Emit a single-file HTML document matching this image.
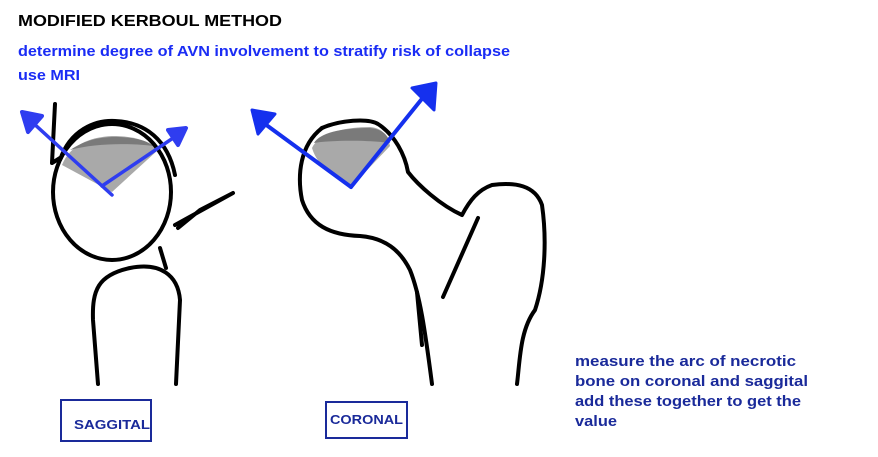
<!DOCTYPE html>
<html><head><style>html,body{margin:0;padding:0;background:#fff}svg{display:block}</style></head>
<body>
<svg width="878" height="457" viewBox="0 0 878 457" xmlns="http://www.w3.org/2000/svg" font-family="Liberation Sans, Arial, sans-serif" font-weight="bold">
<text x="18" y="26" font-size="16" fill="#000" textLength="264" lengthAdjust="spacingAndGlyphs">MODIFIED KERBOUL METHOD</text>
<text x="18" y="56" font-size="15" fill="#1a2cf5" textLength="492" lengthAdjust="spacingAndGlyphs">determine degree of AVN involvement to stratify risk of collapse</text>
<text x="18" y="80" font-size="15" fill="#1a2cf5" textLength="62" lengthAdjust="spacingAndGlyphs">use MRI</text>

<!-- gray caps -->
<path d="M62,165 C70,145 90,137 112,136 C135,136 150,141 158,150 L112,192 Z" fill="#a9a9a9"/>
<path d="M70,150 C85,140 100,137 115,137 C135,137 148,141 153,146 C130,143 95,143 70,150Z" fill="#7a7a7a"/>
<path d="M312,148 C318,135 340,127 370,127 C382,128 388,135 390,146 L351,187 C335,175 318,168 312,148Z" fill="#a9a9a9"/>
<path d="M314,143 C320,133 340,128 370,128 C382,129 388,135 390,143 C370,140 330,140 314,143Z" fill="#7a7a7a"/>

<g fill="none" stroke="#000" stroke-width="4" stroke-linecap="round" stroke-linejoin="round">
<path d="M55,104 L52,163 L60,158"/>
<path d="M60,160 C70,130 95,120 115,121 C145,122 168,140 175,175"/>
<ellipse cx="112" cy="192" rx="59" ry="68"/>
<path d="M175,225 L233,193 L200,210 L178,228"/>
<path d="M160,248 L166,268"/>
<path d="M98,384 L93,320 C92,290 98,275 130,268 C160,262 178,275 180,300 L176,384"/>
<path d="M322,128 C340,120 368,118 378,124 C395,135 405,155 408,172 C418,185 440,205 462,215 C470,200 478,190 492,185 C515,182 535,185 542,205 C547,240 545,280 535,310 C520,330 520,360 517,384"/>
<path d="M322,128 C300,145 297,175 302,200 C310,225 330,235 360,236 C385,238 400,250 410,270 C420,295 425,330 432,384"/>
<path d="M417,292 L422,345"/>
<path d="M478,218 L443,297"/>
</g>
<!-- arrows -->
<g stroke="#2f3df0" stroke-width="3.5" fill="#2f3df0" stroke-linecap="round">
<path d="M112,195 L32,122" fill="none"/>
<path d="M102,186 L182,132" fill="none"/>
<polygon points="22,112 42,116 28,132" stroke-width="4" stroke-linejoin="round"/>
<polygon points="186,128 168,130 178,145" stroke-width="4" stroke-linejoin="round"/>
</g>
<g stroke="#1530ee" stroke-width="4" fill="#1530ee" stroke-linecap="round">
<path d="M351,187 L265,124" fill="none"/>
<path d="M351,187 L425,95" fill="none"/>
<polygon points="252,110 275,114 258,134" stroke-width="3" stroke-linejoin="round"/>
<polygon points="436,83 434,110 412,88" stroke-width="3" stroke-linejoin="round"/>
</g>
<!-- labels -->
<rect x="61" y="400" width="90" height="41" fill="none" stroke="#1a2a9a" stroke-width="2"/>
<text x="74" y="429" font-size="13" fill="#1a2a9a" textLength="76" lengthAdjust="spacingAndGlyphs">SAGGITAL</text>
<rect x="326" y="402" width="81" height="36" fill="none" stroke="#1a2a9a" stroke-width="2"/>
<text x="330" y="424" font-size="13" fill="#1a2a9a" textLength="73" lengthAdjust="spacingAndGlyphs">CORONAL</text>
<g font-size="15" fill="#1a2a9a">
<text x="575" y="366" textLength="221" lengthAdjust="spacingAndGlyphs">measure the arc of necrotic</text>
<text x="575" y="386" textLength="233" lengthAdjust="spacingAndGlyphs">bone on coronal and saggital</text>
<text x="575" y="406" textLength="226" lengthAdjust="spacingAndGlyphs">add these together to get the</text>
<text x="575" y="426" textLength="42" lengthAdjust="spacingAndGlyphs">value</text>
</g>
</svg>
</body></html>
